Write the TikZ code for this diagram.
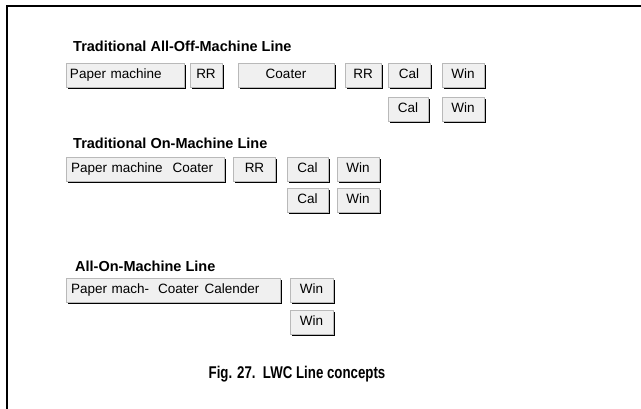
\documentclass[tikz,border=0pt]{standalone}
\usepackage{fontspec}
\setmainfont{Liberation Sans}
\newfontfamily\capfont[FakeStretch=0.78]{Liberation Sans}
\usetikzlibrary{shadows}
\begin{document}
\begin{tikzpicture}[x=1pt,y=-1pt,
  box/.style={draw=gray!55, fill=gray!12, line width=0.4pt, inner sep=0pt,
    minimum height=24pt, text height=9.7pt, text depth=2.8pt,
    font=\fontsize{13.5}{15}\selectfont,
    drop shadow={shadow xshift=1.7pt, shadow yshift=-1.7pt, fill=black, opacity=1}},
  lbox/.style={box, align=left},
  ttl/.style={anchor=west, inner sep=0pt, font=\fontsize{14.5}{16}\selectfont\bfseries},
  figcap/.style={inner sep=0pt, font=\fontsize{17}{20}\selectfont\capfont\bfseries},
  frame/.style={line width=2pt}]
\useasboundingbox (0,0) rectangle (641,409);
\fill[white] (0,0) rectangle (641,409);
% frame
\coordinate (tl) at (7,6);
\coordinate (tr) at (641,6);
\coordinate (bl) at (7,409);
\draw[frame] (tr) -- (tl) -- (bl);

% Traditional All-Off-Machine Line
\node[ttl] (t1) at (73,46) {Traditional All-Off-Machine Line};
\node[lbox, minimum width=118pt, text width=110pt] (pm1) at (125,75.5) {Paper machine};
\node[box, minimum width=32pt] (rr1a) at (206,75.5) {RR};
\node[box, minimum width=96pt] (co1) at (286,75.5) {Coater};
\node[box, minimum width=36pt] (rr1b) at (363,75.5) {RR};
\node[box, minimum width=42pt] (ca1a) at (409,75.5) {Cal};
\node[box, minimum width=42pt] (wi1a) at (463,75.5) {Win};
\node[box, minimum width=40pt] (ca1b) at (408,109.5) {Cal};
\node[box, minimum width=42pt] (wi1b) at (463,109.5) {Win};

% Traditional On-Machine Line
\node[ttl] (t2) at (73,143) {Traditional On-Machine Line};
\node[lbox, minimum width=158pt, text width=148pt] (pm2) at (145,169) {Paper machine\hspace{10pt}Coater};
\node[box, minimum width=42pt] (rr2) at (254.5,169) {RR};
\node[box, minimum width=41pt] (ca2a) at (307.5,169) {Cal};
\node[box, minimum width=42pt] (wi2a) at (358,169) {Win};
\node[box, minimum width=41pt] (ca2b) at (307.5,200) {Cal};
\node[box, minimum width=42pt] (wi2b) at (358,200) {Win};

% All-On-Machine Line
\node[ttl] (t3) at (75,266) {All-On-Machine Line};
\node[lbox, minimum width=214pt, text width=204pt] (pm3) at (173,290) {Paper mach-\hspace{9pt}Coater\hspace{6pt}Calender};
\node[box, minimum width=43pt] (wi3a) at (311.5,290) {Win};
\node[box, minimum width=43pt] (wi3b) at (311.5,322.5) {Win};

% caption
\node[figcap] (fig) at (297,374) {Fig. 27.\ \ LWC Line concepts};
\end{tikzpicture}
\end{document}
